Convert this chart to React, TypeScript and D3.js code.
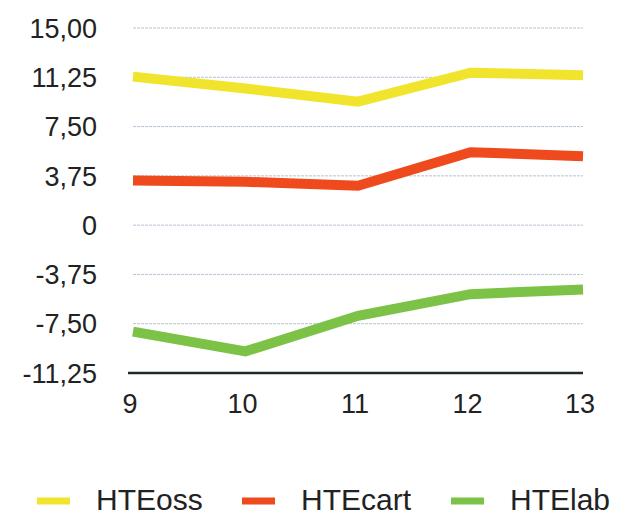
import { useEffect, useRef } from "react";
import * as d3 from "d3";

const years = [9, 10, 11, 12, 13];
const hteOss = [11.3, 10.4, 9.4, 11.6, 11.4];
const hteCart = [3.4, 3.3, 3.0, 5.55, 5.25];
const hteLab = [-8.1, -9.6, -6.9, -5.25, -4.9];
const yTicks = [15, 11.25, 7.5, 3.75, 0, -3.75, -7.5, -11.25];
const seriesNames = ["HTEoss", "HTEcart", "HTElab"];
const seriesColors = ["#f0e52c", "#ee4a1d", "#7cc246"];

export default function App() {
  const svgRef = useRef(null);

  useEffect(() => {
    const width = 622;
    const height = 518;
    const margin = { top: 28, right: 39, bottom: 145, left: 133 };
    const font = "'Liberation Sans', Arial, Helvetica, sans-serif";

    const svg = d3.select(svgRef.current);
    svg.selectAll("*").remove();
    svg.attr("width", width).attr("height", height);

    const x = d3.scaleLinear()
      .domain([9, 13])
      .range([margin.left, width - margin.right]);

    const y = d3.scaleLinear()
      .domain([-11.25, 15])
      .range([height - margin.bottom, margin.top]);

    const fmt = (v: number) => (v === 0 ? "0" : v.toFixed(2).replace(".", ","));

    // gridlines
    svg.append("g")
      .selectAll("line")
      .data(yTicks.filter(t => t !== -11.25))
      .join("line")
      .attr("x1", x(9))
      .attr("x2", x(13))
      .attr("y1", d => y(d))
      .attr("y2", d => y(d))
      .attr("stroke", "#b4c4d4")
      .attr("stroke-width", 1)
      .attr("stroke-dasharray", "3,1");

    // y labels
    svg.append("g")
      .selectAll("text")
      .data(yTicks)
      .join("text")
      .attr("x", 97)
      .attr("y", d => y(d))
      .attr("dy", "0.36em")
      .attr("text-anchor", "end")
      .attr("font-family", font)
      .attr("font-size", 27)
      .attr("fill", "#222")
      .text(d => fmt(d));

    // x axis line
    svg.append("line")
      .attr("x1", x(9) - 5)
      .attr("x2", x(13))
      .attr("y1", y(-11.25))
      .attr("y2", y(-11.25))
      .attr("stroke", "#1f2a26")
      .attr("stroke-width", 2.5);

    svg.append("g")
      .selectAll("text")
      .data(years)
      .join("text")
      .attr("x", d => x(d) - 3)
      .attr("y", 413)
      .attr("text-anchor", "middle")
      .attr("font-family", font)
      .attr("font-size", 27)
      .attr("fill", "#222")
      .text(d => String(d));

    const line = d3.line<number>()
      .x((_, i) => x(years[i]))
      .y(d => y(d));

    [hteOss, hteCart, hteLab].forEach((s, i) => {
      svg.append("path")
        .datum(s)
        .attr("fill", "none")
        .attr("stroke", seriesColors[i])
        .attr("stroke-width", 10)
        .attr("stroke-linejoin", "miter")
        .attr("d", line);
    });

    // legend
    const legendX = [37, 242, 451];
    const lg = svg.append("g");
    seriesNames.forEach((name, i) => {
      lg.append("line")
        .attr("x1", legendX[i])
        .attr("x2", legendX[i] + 33)
        .attr("y1", 501)
        .attr("y2", 501)
        .attr("stroke", seriesColors[i])
        .attr("stroke-width", 7);
      lg.append("text")
        .attr("x", legendX[i] + 59)
        .attr("y", 510)
        .attr("font-family", font)
        .attr("font-size", 30)
        .attr("fill", "#222")
        .text(name);
    });
  }, []);

  return (
    <svg ref={svgRef} style={{ position: "absolute", left: 0, top: 0, background: "#fff" }}></svg>
  );
}
